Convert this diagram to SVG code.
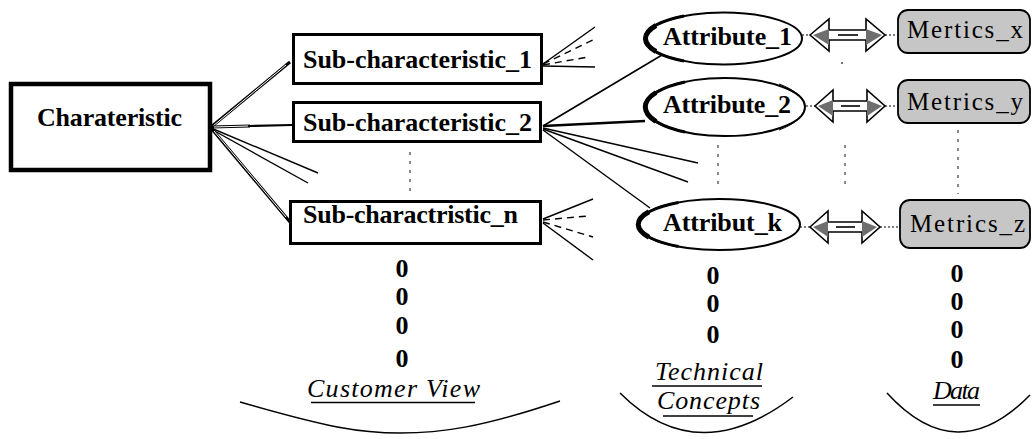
<svg xmlns="http://www.w3.org/2000/svg" width="1033" height="439" viewBox="0 0 1033 439">
<style>
text{font-family:"Liberation Serif","Times New Roman",serif;fill:#000}
.b{font-weight:bold;font-size:26px}
.r{font-size:25px}
.z{font-weight:bold;font-size:26px;text-anchor:middle}
.it{font-style:italic;font-size:26px}
.box{fill:#fff;stroke:#000;stroke-width:3}
.ell{fill:#fff;stroke:#000;stroke-width:2}
.met{fill:#c6c6c6;stroke:#000;stroke-width:1.8}
.ln{stroke:#000;stroke-width:1.4;fill:none}
.dln{stroke:#000;stroke-width:3;fill:none}
.wln{stroke:#fff;stroke-width:1;fill:none}
.ds{stroke:#000;stroke-width:1.4;fill:none;stroke-dasharray:7,5}
.dot{stroke:#888;stroke-width:2;fill:none;stroke-dasharray:3,6}
.ul{stroke:#000;stroke-width:1.6}
.brace{stroke:#000;stroke-width:1.5;fill:none}
.arw{fill:#fff;stroke:#000;stroke-width:1.6;stroke-linejoin:miter}
.ag{fill:#6e6e6e}
.cres{stroke:#000;fill:none}
.con{stroke:#000;stroke-width:1.2;stroke-dasharray:2,2;fill:none}
</style>

<g id="connectors">
  <line class="dln" x1="211" y1="127" x2="290" y2="62"/>
  <line class="wln" x1="213" y1="126" x2="286" y2="65"/>
  <line class="dln" x1="211" y1="127" x2="250" y2="126"/>
  <line class="wln" x1="214" y1="127" x2="248" y2="126"/>
  <line x1="250" y1="126" x2="292" y2="125" stroke="#000" stroke-width="2.2"/>
  <line class="ln" x1="211" y1="128" x2="318" y2="173"/>
  <line class="ln" x1="211" y1="129" x2="308" y2="183"/>
  <line class="dln" x1="211" y1="128" x2="290" y2="222"/>
  <line class="wln" x1="214" y1="131" x2="286" y2="217"/>
  <line class="ln" x1="543" y1="64" x2="595" y2="27"/>
  <line class="ds" x1="543" y1="64" x2="593" y2="40"/>
  <line class="ds" x1="543" y1="65" x2="588" y2="57"/>
  <line class="ln" x1="543" y1="66" x2="595" y2="67"/>
  <line x1="543" y1="126" x2="662" y2="55" stroke="#000" stroke-width="1.6"/>
  <line x1="543" y1="126" x2="645" y2="121" stroke="#000" stroke-width="2.6"/>
  <line class="ln" x1="543" y1="128" x2="698" y2="163"/>
  <line class="ln" x1="543" y1="129" x2="688" y2="182"/>
  <line class="ln" x1="543" y1="130" x2="650" y2="208"/>
  <line class="ln" x1="543" y1="219" x2="593" y2="199"/>
  <line class="ds" x1="543" y1="220" x2="588" y2="216"/>
  <line class="ds" x1="543" y1="222" x2="593" y2="237"/>
  <line class="ln" x1="543" y1="223" x2="593" y2="260"/>
  <line class="dot" x1="410" y1="152" x2="410" y2="194"/>
  <line class="dot" x1="718" y1="145" x2="718" y2="190"/>
  <line class="dot" x1="845" y1="145" x2="845" y2="189"/>
  <line class="dot" x1="958" y1="130" x2="958" y2="194"/>
  <circle cx="842" cy="63" r="1" fill="#444"/>
  <line class="con" x1="802" y1="35" x2="810" y2="35"/>
  <line class="con" x1="885" y1="35" x2="898" y2="35"/>
  <line class="con" x1="806" y1="106" x2="815" y2="106"/>
  <line class="con" x1="885" y1="106" x2="898" y2="106"/>
  <line class="con" x1="800" y1="227" x2="810" y2="227"/>
  <line class="con" x1="880" y1="227" x2="900" y2="227"/>
  <g id="arrow1">
    <polygon class="arw" points="810,35 829,19 829,30 866,30 866,19 885,35 866,51 866,40 829,40 829,51"/>
    <polygon class="ag" points="813,35 829,29 829,45"/>
    <polygon class="ag" points="882,35 866,29 866,45"/>
    <line x1="838" y1="35" x2="858" y2="35" stroke="#000" stroke-width="1.6"/>
  </g>
  <g id="arrow2">
    <polygon class="arw" points="815,106 833,90 833,101 867,101 867,90 885,106 867,122 867,111 833,111 833,122"/>
    <polygon class="ag" points="818,106 833,100 833,116"/>
    <polygon class="ag" points="882,106 867,100 867,116"/>
    <line x1="841" y1="106" x2="860" y2="106" stroke="#000" stroke-width="1.6"/>
  </g>
  <g id="arrow3">
    <polygon class="arw" points="810,227 828,211 828,222 862,222 862,211 880,227 862,243 862,232 828,232 828,243"/>
    <polygon class="ag" points="813,227 828,221 828,237"/>
    <polygon class="ag" points="877,227 862,221 862,237"/>
    <line x1="836" y1="227" x2="855" y2="227" stroke="#000" stroke-width="1.6"/>
  </g>
</g>

<g id="charateristic">
  <rect x="11" y="84" width="199" height="86" fill="#fff" stroke="#000" stroke-width="4.5"/>
  <text class="b" x="37" y="126" textLength="145" lengthAdjust="spacing">Charateristic</text>
</g>

<g id="sub1">
  <rect class="box" x="293.5" y="34.5" width="248" height="49"/>
  <text class="b" x="303" y="68" textLength="229" lengthAdjust="spacing">Sub-characteristic_1</text>
</g>
<g id="sub2">
  <rect class="box" x="293.5" y="102.5" width="247" height="39"/>
  <text class="b" x="303" y="131" textLength="229" lengthAdjust="spacing">Sub-characteristic_2</text>
</g>
<g id="subn">
  <rect class="box" x="290.5" y="201.5" width="250" height="42"/>
  <text class="b" x="303" y="223" textLength="215" lengthAdjust="spacing">Sub-charactristic_n</text>
</g>

<g id="attr1">
  <ellipse class="ell" cx="723.5" cy="38.5" rx="78.5" ry="26"/>
  <path class="cres" stroke-width="3" d="M684,16 A78.5,26 0 0 0 684,61"/>
  <path class="cres" stroke-width="5" d="M656,25.5 A78.5,26 0 0 0 656,51.5"/>
  <text class="b" x="663" y="45" textLength="129" lengthAdjust="spacing">Attribute_1</text>
</g>
<g id="attr2">
  <ellipse class="ell" cx="725" cy="107" rx="80" ry="29"/>
  <path class="cres" stroke-width="1" d="M779,84 A84,32 0 0 1 779,130"/>
  <path class="cres" stroke-width="3" d="M685,82 A80,29 0 0 0 685,132"/>
  <path class="cres" stroke-width="5" d="M656,92.5 A80,29 0 0 0 656,121.5"/>
  <text class="b" x="663" y="113" textLength="128" lengthAdjust="spacing">Attribute_2</text>
</g>
<g id="attrk">
  <ellipse class="ell" cx="719" cy="224.5" rx="81" ry="25.5"/>
  <path class="cres" stroke-width="3" d="M678.5,202.5 A81,25.5 0 0 0 678.5,246.5"/>
  <path class="cres" stroke-width="5" d="M649,211.8 A81,25.5 0 0 0 649,237.2"/>
  <text class="b" x="663" y="231" textLength="119" lengthAdjust="spacing">Attribut_k</text>
</g>

<g id="metricsx">
  <rect class="met" x="898" y="10" width="132" height="43" rx="10"/>
  <text class="r" x="907" y="38" textLength="116" lengthAdjust="spacing">Mertics_x</text>
</g>
<g id="metricsy">
  <rect class="met" x="898" y="80" width="132" height="43" rx="10"/>
  <text class="r" x="907" y="110" textLength="116" lengthAdjust="spacing">Metrics_y</text>
</g>
<g id="metricsz">
  <rect class="met" x="900" y="200" width="130" height="48" rx="10"/>
  <text class="r" x="910" y="232" textLength="115" lengthAdjust="spacing">Metrics_z</text>
</g>

<g id="customer-view">
  <text class="z" x="402" y="277">0</text>
  <text class="z" x="402" y="305">0</text>
  <text class="z" x="402" y="334">0</text>
  <text class="z" x="402" y="367">0</text>
  <text class="it" x="307" y="397" textLength="173" lengthAdjust="spacing">Customer View</text>
  <line class="ul" x1="311" y1="402.5" x2="475" y2="402.5"/>
  <path class="brace" d="M240,402 C330,428 360,433 400,433 C440,433 480,428 560,401"/>
</g>

<g id="technical-concepts">
  <text class="z" x="713" y="284">0</text>
  <text class="z" x="713" y="312">0</text>
  <text class="z" x="713" y="343">0</text>
  <text class="it" x="655" y="380" textLength="108" lengthAdjust="spacing">Technical</text>
  <line class="ul" x1="652" y1="386" x2="762" y2="386"/>
  <text class="it" x="657" y="409" textLength="103" lengthAdjust="spacing">Concepts</text>
  <line class="ul" x1="663" y1="416" x2="753" y2="416"/>
  <path class="brace" d="M620,393 Q697,470 793,397"/>
</g>

<g id="data">
  <text class="z" x="957" y="282">0</text>
  <text class="z" x="957" y="310">0</text>
  <text class="z" x="957" y="338">0</text>
  <text class="z" x="957" y="368">0</text>
  <text class="it" x="933" y="399" textLength="47" lengthAdjust="spacing">Data</text>
  <line class="ul" x1="933" y1="405" x2="980" y2="405"/>
  <path class="brace" d="M887,393 Q957,470 1030,395"/>
</g>
</svg>
